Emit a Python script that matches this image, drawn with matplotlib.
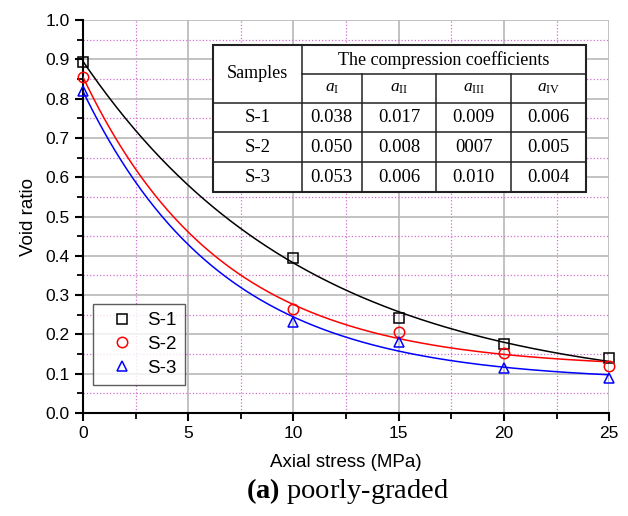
import matplotlib
matplotlib.use("Agg")
import matplotlib.pyplot as plt
from matplotlib.patches import Rectangle
from matplotlib.ticker import MultipleLocator
import numpy as np

plt.rcParams['font.family'] = ['Liberation Sans', 'DejaVu Sans']
plt.rcParams['mathtext.fontset'] = 'custom'
plt.rcParams['mathtext.rm'] = 'Liberation Serif'
plt.rcParams['mathtext.it'] = 'Liberation Serif:italic'
plt.rcParams['mathtext.bf'] = 'Liberation Serif:bold'

# measured points
stress = np.array([0, 10, 15, 20, 25])
s1 = np.array([0.894, 0.394, 0.243, 0.176, 0.139])
s2 = np.array([0.856, 0.265, 0.207, 0.152, 0.120])
s3 = np.array([0.820, 0.231, 0.181, 0.115, 0.088])

labels = ['S-1', 'S-2', 'S-3']
colors = ['black', 'red', 'blue']
markers = ['s', 'o', '^']

# table contents
coef_heads = [r'$a_{\mathrm{I}}$', r'$a_{\mathrm{II}}$', r'$a_{\mathrm{III}}$', r'$a_{\mathrm{IV}}$']
coef_rows = [
    ['S-1', '0.038', '0.017', '0.009', '0.006'],
    ['S-2', '0.050', '0.008', '0007', '0.005'],
    ['S-3', '0.053', '0.006', '0.010', '0.004'],
]


def fit_exp(x, y):
    # y = a + b*exp(-c*x), grid search on c, least squares for a, b
    best = None
    for c in np.linspace(0.01, 0.5, 2000):
        A = np.column_stack([np.ones_like(x, dtype=float), np.exp(-c * x)])
        coef, res, _, _ = np.linalg.lstsq(A, y, rcond=None)
        err = np.sum((A @ coef - y) ** 2)
        if best is None or err < best[0]:
            best = (err, coef[0], coef[1], c)
    return best[1:]


fig = plt.figure(figsize=(6.28, 5.16), dpi=100)
ax = fig.add_axes([0.132, 0.1996, 0.838, 0.7616])

xs = np.linspace(0, 25, 300)
for y, lab, col, mk in zip([s1, s2, s3], labels, colors, markers):
    a, b, c = fit_exp(stress.astype(float), y)
    ax.plot(xs, a + b * np.exp(-c * xs), color=col, lw=1.1, zorder=3)
    ax.plot(stress, y, linestyle='none', marker=mk, ms=7.5, mfc='none',
            mec=col, mew=1.1, label=lab, clip_on=False, zorder=4)

ax.set_xlim(0, 25)
ax.set_ylim(0, 1.0)
ax.xaxis.set_major_locator(MultipleLocator(5))
ax.xaxis.set_minor_locator(MultipleLocator(2.5))
ax.yaxis.set_major_locator(MultipleLocator(0.1))
ax.yaxis.set_minor_locator(MultipleLocator(0.05))
ax.yaxis.set_major_formatter(plt.FormatStrFormatter('%.1f'))
ax.grid(True, which='major', color='#b8b8b8', lw=1.2, ls='-')
ax.grid(True, which='minor', color='#d070d0', lw=0.9, ls=':')
ax.set_axisbelow(True)
for sp in ['top', 'right']:
    ax.spines[sp].set_visible(False)
for sp in ['left', 'bottom']:
    ax.spines[sp].set_linewidth(1.5)
ax.tick_params(which='major', direction='out', length=6, width=1.5, labelsize=12.5)
ax.tick_params(which='minor', direction='out', length=4, width=1.3)

ax.set_xlabel('Axial stress (MPa)', fontsize=13.5, labelpad=9)
ax.set_ylabel('Void ratio', fontsize=13.5, labelpad=6)

leg = ax.legend(loc='lower left', bbox_to_anchor=(0.019, 0.071), borderaxespad=0,
                fontsize=13.5, frameon=True, fancybox=False, edgecolor='#333333',
                borderpad=0.45, handletextpad=0.25, labelspacing=0.35, handlelength=2.2)
leg.get_frame().set_linewidth(1.0)

# coefficient table drawn in axes fraction
tx0, tx1 = 0.247, 0.956
ty0, ty1 = 0.562, 0.936
col_edges = [tx0, 0.416, 0.530, 0.671, 0.814, tx1]
row_edges = [ty1, 0.862, 0.790, 0.714, 0.638, ty0]
tkw = dict(transform=ax.transAxes, family='Liberation Serif', ha='center',
           va='center', zorder=11)
ax.add_patch(Rectangle((tx0, ty0), tx1 - tx0, ty1 - ty0, transform=ax.transAxes,
                       facecolor='white', edgecolor='#222222', lw=1.5, zorder=10))
lkw = dict(transform=ax.transAxes, color='#222222', lw=1.1, zorder=11)
ax.plot([col_edges[1], tx1], [row_edges[1]] * 2, **lkw)
for yv in row_edges[2:-1]:
    ax.plot([tx0, tx1], [yv] * 2, **lkw)
ax.plot([col_edges[1]] * 2, [ty0, ty1], **lkw)
for xv in col_edges[2:-1]:
    ax.plot([xv] * 2, [ty0, row_edges[1]], **lkw)

ax.text((tx0 + col_edges[1]) / 2, (row_edges[0] + row_edges[2]) / 2, 'Samples',
        fontsize=13, **tkw)
ax.text((col_edges[1] + tx1) / 2, (row_edges[0] + row_edges[1]) / 2,
        'The compression coefficients', fontsize=13, **tkw)
for i, h in enumerate(coef_heads):
    ax.text((col_edges[i + 1] + col_edges[i + 2]) / 2,
            (row_edges[1] + row_edges[2]) / 2, h, fontsize=12.5, **tkw)
for r, row in enumerate(coef_rows):
    for ci, val in enumerate(row):
        ax.text((col_edges[ci] + col_edges[ci + 1]) / 2,
                (row_edges[r + 2] + row_edges[r + 3]) / 2, val, fontsize=13.5, **tkw)

fig.text(0.553, 0.048, r'$\mathbf{(a)}$ poorly-graded', family='Liberation Serif',
         fontsize=20.5, ha='center', va='center')

fig.savefig('out.png', dpi=100)
